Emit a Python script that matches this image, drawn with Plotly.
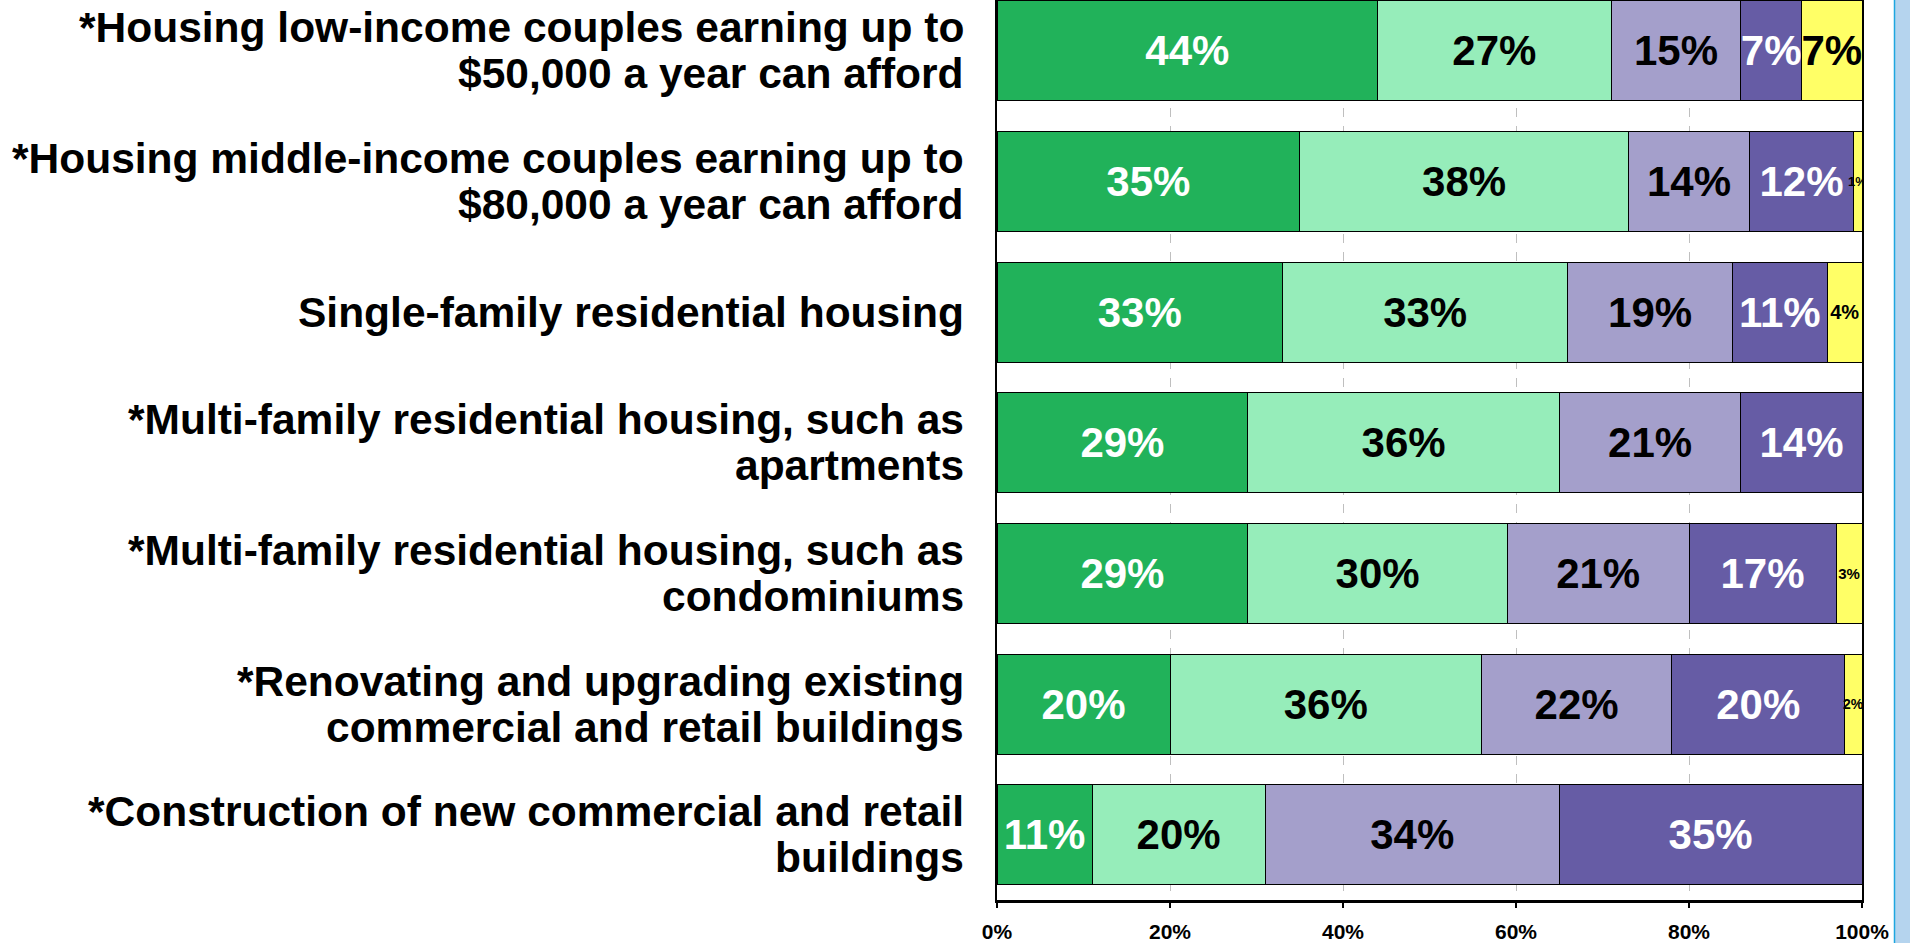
import plotly.graph_objects as go

categories = [
    "*Housing low-income couples earning up to<br>$50,000 a year can afford",
    "*Housing middle-income couples earning up to<br>$80,000 a year can afford",
    "Single-family residential housing",
    "*Multi-family residential housing, such as<br>apartments",
    "*Multi-family residential housing, such as<br>condominiums",
    "*Renovating and upgrading existing<br>commercial and retail buildings",
    "*Construction of new commercial and retail<br>buildings",
]

s1 = [44, 35, 33, 29, 29, 20, 11]
s2 = [27, 38, 33, 36, 30, 36, 20]
s3 = [15, 14, 19, 21, 21, 22, 34]
s4 = [7, 12, 11, 14, 17, 20, 35]
s5 = [7, 1, 4, 0, 3, 2, 0]

series = [s1, s2, s3, s4, s5]
colors = ["#21B25A", "#96EDBA", "#A49FCB", "#665CA5", "#FFFF66"]
text_colors = ["white", "black", "black", "white", "black"]
s5_label_sizes = [42, 13, 20, 13, 15, 14, 13]

x_ticks = [0, 20, 40, 60, 80, 100]
x_ticklabels = ["0%", "20%", "40%", "60%", "80%", "100%"]

FONT = "Liberation Sans, Arial, sans-serif"

W, H = 1910, 943
ML, MR, MT, MB = 997, 48, 0, 43
PW, PH = W - ML - MR, H - MT - MB

fig = go.Figure()
for i, vals in enumerate(series):
    sizes = s5_label_sizes if i == 4 else [42] * len(vals)
    fig.add_trace(go.Bar(
        y=categories,
        x=vals,
        orientation="h",
        marker=dict(color=colors[i], line=dict(color="black", width=1)),
        text=[f"{v}%" if v else "" for v in vals],
        textposition="inside",
        insidetextanchor="middle",
        constraintext="none",
        textangle=0,
        textfont=dict(family=FONT, size=sizes, color=text_colors[i], weight="bold"),
        hoverinfo="skip",
        showlegend=False,
    ))

annotations = []
LINE_H = 46
for cat in categories:
    lines = cat.split("<br>")
    n = len(lines)
    for j, ln in enumerate(lines):
        annotations.append(dict(
            x=0, xref="paper", xanchor="right", xshift=-31,
            y=cat, yref="y", yanchor="middle",
            yshift=((n - 1) / 2 - j) * LINE_H,
            text=ln, showarrow=False,
            font=dict(family=FONT, size=42.5, color="black", weight="bold"),
            align="right",
        ))

fig.update_layout(
    width=W, height=H,
    margin=dict(l=ML, r=MR, t=MT, b=MB, pad=0),
    barmode="stack",
    bargap=0.234,
    plot_bgcolor="white",
    paper_bgcolor="white",
    annotations=annotations,
    shapes=[dict(
        type="rect", xref="paper", yref="paper",
        x0=(1894.5 - ML) / PW, x1=(1915 - ML) / PW,
        y0=-MB / PH - 0.01, y1=1.01,
        fillcolor="#B5D4EE", line=dict(color="#1EA6E0", width=1.5),
        layer="above",
    )],
)
fig.update_xaxes(
    range=[0, 100],
    tickvals=x_ticks, ticktext=x_ticklabels,
    tickfont=dict(family=FONT, size=21, color="black", weight="bold"),
    showgrid=True, gridcolor="#BFBFBF", griddash="dash", gridwidth=1,
    zeroline=False,
    showline=True, linecolor="black", linewidth=3,
    ticks="outside", ticklen=5, tickcolor="black", tickwidth=2,
    ticklabelstandoff=6,
    fixedrange=True,
)
fig.update_yaxes(
    type="category",
    categoryorder="array", categoryarray=categories,
    range=[6.5, -0.39],
    showticklabels=False, ticks="",
    showgrid=False, zeroline=False,
    showline=True, linecolor="black", linewidth=2, mirror=True,
    fixedrange=True,
)

fig.write_html("out.html", config={"displayModeBar": False},
               post_script="document.body.style.margin='0';document.body.style.overflow='hidden';")
